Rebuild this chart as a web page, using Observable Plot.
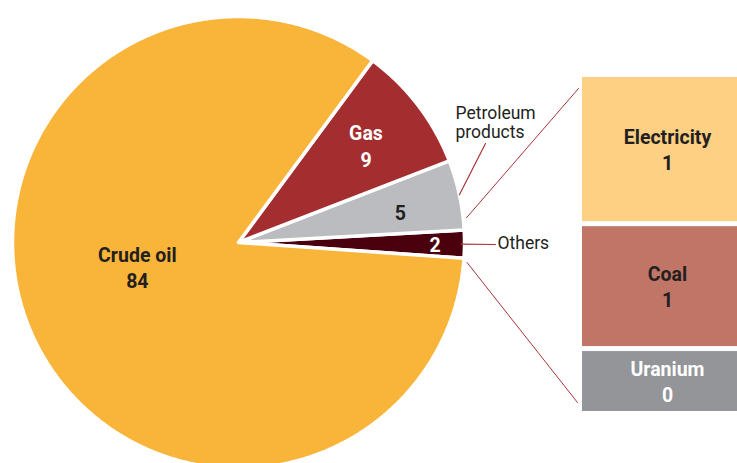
<!DOCTYPE html>
<html>
<head>
<meta charset="utf-8">
<script src="https://cdn.jsdelivr.net/npm/d3@7"></script>
<script src="https://cdn.jsdelivr.net/npm/@observablehq/plot@0.6"></script>
<style>
  html, body { margin: 0; padding: 0; background: #fff; }
  #chart svg { display: block; }
</style>
</head>
<body>
<div id="chart"></div>
<script>
// Primary energy shares (%), drawn counter-clockwise starting with "Others"
const sliceNames  = ["Others", "Petroleum products", "Gas", "Crude oil"];
const sliceValues = [2, 5, 9, 84];
const sliceColors = ["#4b000e", "#bbbcbf", "#a32d2f", "#f9b43a"];

// Breakdown of "Others" (%)
const otherNames  = ["Electricity", "Coal", "Uranium"];
const otherValues = [0.89, 0.74, 0.37];
const otherColors = ["#fdd084", "#c07566", "#939598"];

const W = 737, H = 463;
const FONT = "Roboto, 'Liberation Sans', sans-serif";
const DARK = "#231f20";
const LINE = "#a8353a";

// Pie layout
const cx = 238, cy = 242, R = 226;
const startDeg = -4;
const rad = d => d * Math.PI / 180;
const pt = (deg, r) => [cx + r * Math.cos(rad(deg)), cy - r * Math.sin(rad(deg))];

const total = d3.sum(sliceValues);
let acc = startDeg;
const slices = sliceNames.map((name, i) => {
  const a0 = acc, a1 = acc + sliceValues[i] / total * 360;
  acc = a1;
  return {name, value: sliceValues[i], color: sliceColors[i], a0, a1};
});

// Polygon outline of each wedge (centre -> arc -> centre)
const wedgePts = slices.flatMap(s => {
  const n = Math.max(4, Math.ceil((s.a1 - s.a0) / 0.5));
  const pts = [[cx, cy]];
  for (let k = 0; k <= n; k++) pts.push(pt(s.a0 + (s.a1 - s.a0) * k / n, R));
  pts.push([cx, cy]);
  return pts.map(([x, y]) => ({name: s.name, color: s.color, x, y}));
});

// In-slice labels: angle override (deg) and radius fraction
const labelPlacement = {
  "Others":             {deg: null,  f: 0.87, text: s => `${s.value}`, fill: "#fff"},
  "Petroleum products": {deg: 11,    f: 0.73, text: s => `${s.value}`, fill: DARK},
  "Gas":                {deg: null,  f: 0.71, text: s => `${s.name}\n${s.value}`, fill: "#fff"},
  "Crude oil":          {deg: 193.3, f: 0.46, text: s => `${s.name}\n${s.value}`, fill: DARK}
};
const sliceLabels = slices.map(s => {
  const p = labelPlacement[s.name];
  const deg = p.deg ?? (s.a0 + s.a1) / 2;
  const [x, y] = pt(deg, R * p.f);
  return {x, y, text: p.text(s), fill: p.fill};
});

// Stacked boxes for the breakdown of "Others"
const boxTop = 77, boxBottom = 411, boxGap = 5, boxX1 = 582, boxX2 = 752;
const unit = (boxBottom - boxTop - boxGap * (otherValues.length - 1)) / d3.sum(otherValues);
let yAcc = boxTop;
const boxes = otherNames.map((name, i) => {
  const y1 = yAcc, y2 = yAcc + otherValues[i] * unit;
  yAcc = y2 + boxGap;
  return {name, value: otherValues[i], color: otherColors[i], y1, y2,
          label: `${name}\n${Math.round(otherValues[i])}`,
          textFill: name === "Uranium" ? "#fff" : DARK};
});

// Connector lines from the "Others" wedge to the box stack
const othersSlice = slices[0];
const connectors = [
  {from: pt(othersSlice.a1 + 3, R * 1.015), to: [boxX1 - 4, boxes[0].y1 + 11]},
  {from: pt(othersSlice.a0 - 1, R * 1.015), to: [boxX1 - 5, boxes[2].y2 - 9]}
].flatMap((c, i) => [{id: i, x: c.from[0], y: c.from[1]}, {id: i, x: c.to[0], y: c.to[1]}]);

// Leader lines for the outside labels
const petro = slices[1];
const othersMid = (othersSlice.a0 + othersSlice.a1) / 2;
const leaders = [
  {id: "p", x: pt(petro.a0 + 9, R)[0], y: pt(petro.a0 + 9, R)[1]},
  {id: "p", x: 485, y: 143},
  {id: "o", x: pt(othersMid, R * 0.985)[0], y: pt(othersMid, R * 0.985)[1]},
  {id: "o", x: 495, y: 244}
];

const chart = Plot.plot({
  width: W, height: H,
  margin: 0,
  x: {domain: [0, W], range: [0, W], axis: null},
  y: {domain: [0, H], range: [0, H], axis: null},
  style: {fontFamily: FONT, background: "#fff"},
  marks: [
    Plot.line(wedgePts, {x: "x", y: "y", z: "name", fill: "color", stroke: "#fff", strokeWidth: 3.5, strokeLinejoin: "miter", curve: "linear"}),
    Plot.line(connectors, {x: "x", y: "y", z: "id", stroke: LINE, strokeWidth: 1}),
    Plot.line(leaders, {x: "x", y: "y", z: "id", stroke: LINE, strokeWidth: 1.2}),
    Plot.text(sliceLabels, {x: "x", y: "y", text: "text", fill: "fill", fontSize: 19.5, fontWeight: "bold", lineHeight: 1.38, fontFamily: FONT}),
    Plot.text(["Petroleum\nproducts"], {x: 455, y: 122, text: d => d, textAnchor: "start", fontSize: 17.5, lineHeight: 1.1, fill: DARK, fontFamily: FONT}),
    Plot.text(["Others"], {x: 497, y: 243, text: d => d, textAnchor: "start", fontSize: 17.5, fill: DARK, fontFamily: FONT}),
    Plot.rect(boxes, {x1: boxX1, x2: boxX2, y1: "y1", y2: "y2", fill: "color"}),
    Plot.text(boxes, {x: (boxX1 + boxX2) / 2, y: d => (d.y1 + d.y2) / 2 - 1, text: "label", fill: "textFill", fontSize: 19.5, fontWeight: "bold", lineHeight: 1.33, fontFamily: FONT})
  ]
});
document.getElementById("chart").append(chart);
</script>
</body>
</html>
